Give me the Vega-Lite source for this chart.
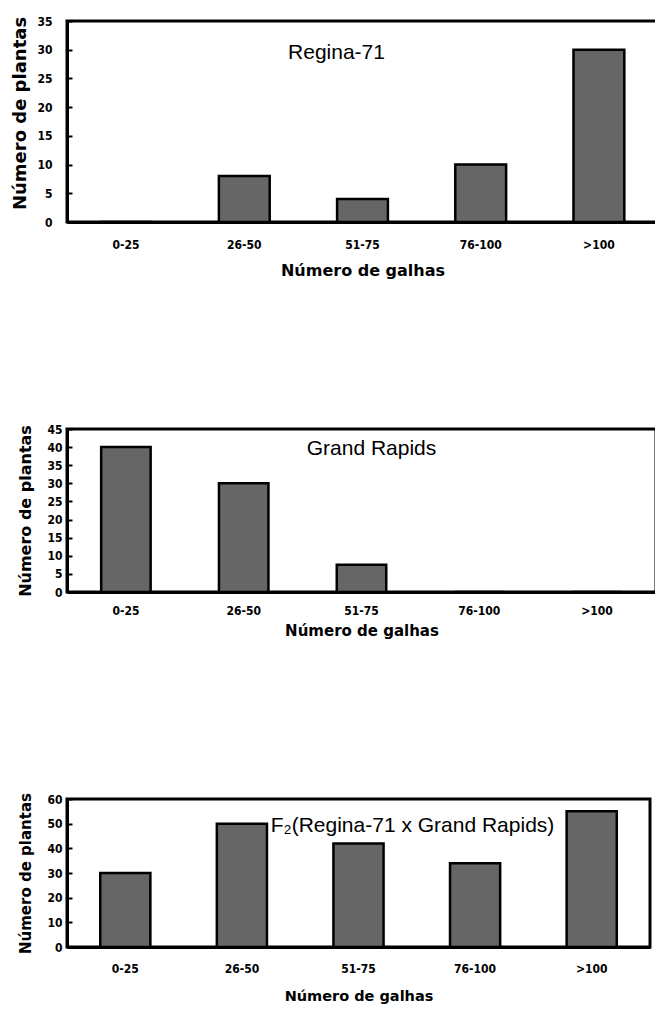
{
  "$schema": "https://vega.github.io/schema/vega-lite/v6.json",
  "background": "white",
  "padding": {"left": 10, "top": 13, "right": 0, "bottom": 0},
  "config": {
    "axis": {
      "labelColor": "black", "titleColor": "black", "domainColor": "black", "tickColor": "black",
      "grid": false, "labelOverlap": false,
      "labelFont": "DejaVu Sans Condensed, Liberation Sans Narrow, DejaVu Sans",
      "labelFontWeight": "bold",
      "titleFont": "DejaVu Sans", "titleFontWeight": "bold"
    },
    "view": {"stroke": "black", "strokeWidth": 3}
  },
  "datasets": {
    "regina": [
      {"galhas": "0-25", "plantas": 0},
      {"galhas": "26-50", "plantas": 8},
      {"galhas": "51-75", "plantas": 4},
      {"galhas": "76-100", "plantas": 10},
      {"galhas": ">100", "plantas": 30}
    ],
    "grand": [
      {"galhas": "0-25", "plantas": 40},
      {"galhas": "26-50", "plantas": 30},
      {"galhas": "51-75", "plantas": 7.5},
      {"galhas": "76-100", "plantas": 0},
      {"galhas": ">100", "plantas": 0}
    ],
    "f2": [
      {"galhas": "0-25", "plantas": 30},
      {"galhas": "26-50", "plantas": 50},
      {"galhas": "51-75", "plantas": 42},
      {"galhas": "76-100", "plantas": 34},
      {"galhas": ">100", "plantas": 55}
    ]
  },
  "columns": 1,
  "bounds": "flush",
  "spacing": 207,
  "concat": [
    {
      "width": 591, "height": 201,
      "encoding": {
        "x": {"field": "galhas", "type": "nominal", "sort": null,
          "scale": {"domain": ["0-25", "26-50", "51-75", "76-100", ">100"], "paddingInner": 0.57, "paddingOuter": 0.285},
          "axis": {"title": "Número de galhas", "labelAngle": 0, "ticks": false, "domainWidth": 3, "labelFontSize": 12, "labelPadding": 17, "titleFontSize": 16, "titlePadding": 12}},
        "y": {"field": "plantas", "type": "quantitative",
          "scale": {"domain": [0, 35], "nice": false},
          "axis": {"title": "Número de plantas", "values": [0, 5, 10, 15, 20, 25, 30, 35], "domainWidth": 3, "ticks": true, "tickSize": -5, "tickWidth": 2, "labelFontSize": 12, "labelPadding": 20, "titleFontSize": 18, "titlePadding": 7, "titleY": 92}}
      },
      "layer": [
        {
          "data": {"name": "regina"},
          "mark": {"type": "bar", "fill": "#666666", "stroke": "black", "strokeWidth": 2.5}
        },
        {
          "data": {"values": [{"t": "Regina-71", "galhas": "51-75", "plantas": 29.5}]},
          "mark": {"type": "text", "font": "Liberation Sans", "fontSize": 21, "align": "center", "baseline": "middle", "dx": -26, "color": "black"},
          "encoding": {"text": {"field": "t"}}
        }
      ]
    },
    {
      "width": 589, "height": 163,
      "encoding": {
        "x": {"field": "galhas", "type": "nominal", "sort": null,
          "scale": {"domain": ["0-25", "26-50", "51-75", "76-100", ">100"], "paddingInner": 0.58, "paddingOuter": 0.29},
          "axis": {"title": "Número de galhas", "labelAngle": 0, "ticks": false, "domainWidth": 3, "labelFontSize": 12, "labelPadding": 13, "titleFontSize": 15, "titlePadding": 7}},
        "y": {"field": "plantas", "type": "quantitative",
          "scale": {"domain": [0, 45], "nice": false},
          "axis": {"title": "Número de plantas", "values": [0, 5, 10, 15, 20, 25, 30, 35, 40, 45], "domainWidth": 3, "ticks": true, "tickSize": -5, "tickWidth": 2, "labelFontSize": 12, "labelPadding": 10, "titleFontSize": 16, "titlePadding": 13}}
      },
      "layer": [
        {
          "data": {"name": "grand"},
          "mark": {"type": "bar", "fill": "#666666", "stroke": "black", "strokeWidth": 2.5}
        },
        {
          "data": {"values": [{"t": "Grand Rapids", "galhas": "51-75", "plantas": 39.5}]},
          "mark": {"type": "text", "font": "Liberation Sans", "fontSize": 21, "align": "center", "baseline": "middle", "dx": 10, "color": "black"},
          "encoding": {"text": {"field": "t"}}
        }
      ]
    },
    {
      "width": 583, "height": 148,
      "encoding": {
        "x": {"field": "galhas", "type": "nominal", "sort": null,
          "scale": {"domain": ["0-25", "26-50", "51-75", "76-100", ">100"], "paddingInner": 0.57, "paddingOuter": 0.285},
          "axis": {"title": "Número de galhas", "labelAngle": 0, "ticks": false, "domainWidth": 3, "labelFontSize": 12, "labelPadding": 16, "titleFontSize": 14.5, "titlePadding": 15}},
        "y": {"field": "plantas", "type": "quantitative",
          "scale": {"domain": [0, 60], "nice": false},
          "axis": {"title": "Número de plantas", "values": [0, 10, 20, 30, 40, 50, 60], "domainWidth": 3, "ticks": true, "tickSize": -5, "tickWidth": 2, "labelFontSize": 12, "labelPadding": 10, "titleFontSize": 15, "titlePadding": 13.5}}
      },
      "layer": [
        {
          "data": {"name": "f2"},
          "mark": {"type": "bar", "fill": "#666666", "stroke": "black", "strokeWidth": 2.5}
        },
        {
          "data": {"values": [{"t": "F₂(Regina-71 x Grand Rapids)", "galhas": "51-75", "plantas": 49}]},
          "mark": {"type": "text", "font": "Liberation Sans", "fontSize": 21, "align": "center", "baseline": "middle", "dx": 54, "color": "black"},
          "encoding": {"text": {"field": "t"}}
        }
      ]
    }
  ]
}
